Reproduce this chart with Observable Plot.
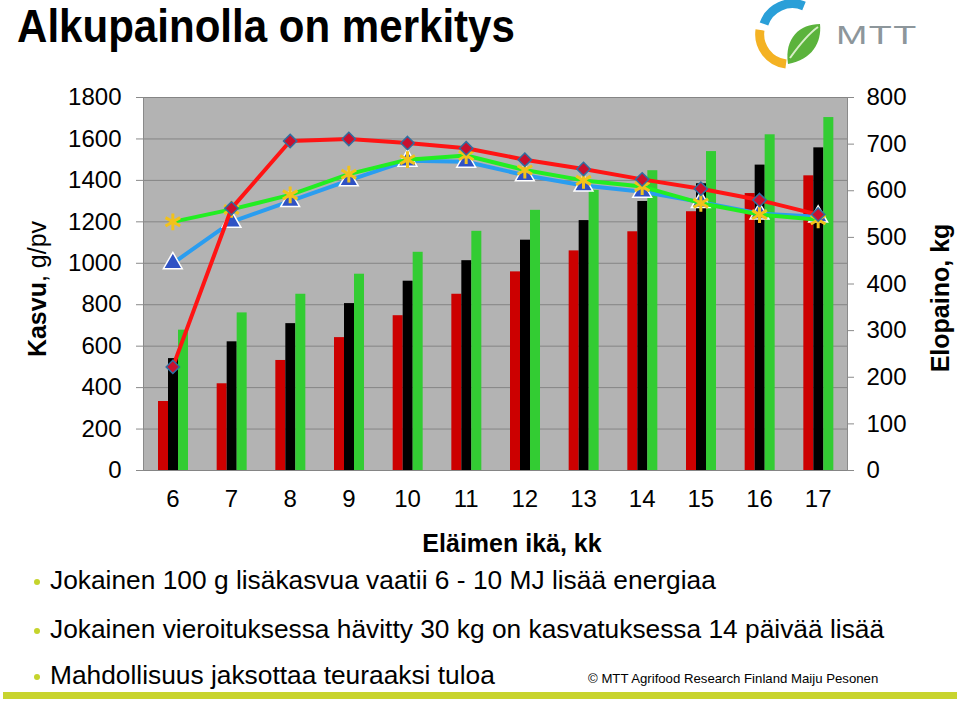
<!DOCTYPE html>
<html><head><meta charset="utf-8">
<script src="https://cdn.jsdelivr.net/npm/d3@7"></script>
<script src="https://cdn.jsdelivr.net/npm/@observablehq/plot@0.6"></script>
<style>
body{margin:0;background:#fff;font-family:"Liberation Sans",Arial,sans-serif;}
#page{position:relative;width:960px;height:701px;overflow:hidden;background:#fff;}
.abs{position:absolute;white-space:nowrap;color:#000;}
.c{transform:translate(-50%,-50%);}
.rot{transform:translate(-50%,-50%) rotate(-90deg);}
.bullet{position:absolute;left:34px;width:6px;height:6px;border-radius:3px;background:#c5d42c;}
.bl{position:absolute;left:50px;font-size:25px;white-space:nowrap;transform-origin:left top;transform:scaleX(1.053);}
#chart{position:absolute;left:0;top:80px;}
</style></head><body><div id="page">
<div class="abs" style="left:17px;top:-2px;font-size:47px;font-weight:bold;transform-origin:left top;transform:scaleX(0.895)">Alkupainolla on merkitys</div>
<svg class="abs" style="left:740px;top:0px" width="210" height="75" viewBox="740 0 210 75">
  <path d="M764,24 A30,30 0 0 1 804,6" fill="none" stroke="#2a9fd8" stroke-width="9"/>
  <path d="M760,30 A30,30 0 0 0 786,64" fill="none" stroke="#f4b223" stroke-width="9"/>
  <path d="M788,64 C812,60 822,42 820,24 C800,24 784,38 788,64 Z" fill="#5bb33c"/>
  <path d="M790,58 C800,44 808,34 818,27" fill="none" stroke="#d8eec8" stroke-width="2"/>
  <text x="836" y="44" font-family="Liberation Sans" font-size="26" fill="#8d969b" transform="translate(836,0) scale(1.45,1) translate(-836,0)" letter-spacing="1">MTT</text>
</svg>
<div id="chart"></div>
<div class="abs rot" style="left:37px;top:289px;font-size:25px"><b>Kasvu</b>, g/pv</div>
<div class="abs rot" style="left:940px;top:298px;font-size:25px;font-weight:bold">Elopaino, kg</div>
<div class="abs c" style="left:512px;top:543px;font-size:25px;font-weight:bold">Eläimen ikä, kk</div>
<div class="bullet" style="top:579px"></div>
<div class="bl" style="top:566px">Jokainen 100 g lisäkasvua vaatii 6 - 10 MJ lisää energiaa</div>
<div class="bullet" style="top:628px"></div>
<div class="bl" style="top:615px">Jokainen vieroituksessa hävitty 30 kg on kasvatuksessa 14 päivää lisää</div>
<div class="bullet" style="top:674px"></div>
<div class="bl" style="top:661px">Mahdollisuus jaksottaa teuraaksi tuloa</div>
<div class="abs" style="left:588px;top:671px;font-size:13.2px">© MTT Agrifood Research Finland Maiju Pesonen</div>
<div class="abs" style="left:3px;top:692px;width:954px;height:7px;background:#c8d42e"></div>
</div>
<script>
const months = [6, 7, 8, 9, 10, 11, 12, 13, 14, 15, 16, 17];
// Elopaino, kg (bars, right axis)
const weightRed   = [148, 186, 236, 285, 332, 378, 426, 471, 512, 555, 594, 632];
const weightBlack = [240, 276, 315, 358, 406, 450, 494, 536, 577, 615, 655, 692];
const weightGreen = [301, 338, 378, 421, 468, 513, 558, 601, 643, 684, 720, 757];
// Kasvu, g/pv (lines, left axis)
const gainRed   = [500, 1265, 1590, 1600, 1580, 1555, 1500, 1455, 1405, 1360, 1305, 1235];
const gainBlue  = [1000, 1200, 1300, 1400, 1495, 1490, 1425, 1375, 1345, 1295, 1240, 1225];
const gainGreen = [1200, 1260, 1330, 1430, 1500, 1520, 1450, 1400, 1370, 1290, 1235, 1210];
const leftTicks  = [0, 200, 400, 600, 800, 1000, 1200, 1400, 1600, 1800];
const rightTicks = [0, 100, 200, 300, 400, 500, 600, 700, 800];
const leftMax = 1800, rightMax = 800;
const K = leftMax / rightMax;

const rows = months.map((m, i) => ({
  month: m,
  wR: weightRed[i], wB: weightBlack[i], wG: weightGreen[i],
  gR: gainRed[i], gB: gainBlue[i], gG: gainGreen[i]
}));

const bw = 704 / months.length;
const chart = Plot.plot({
  width: 960, height: 480,
  marginLeft: 143, marginRight: 113, marginTop: 17, marginBottom: 90,
  style: {fontFamily: "Liberation Sans, Arial, sans-serif", background: "transparent"},
  x: {type: "band", domain: months, padding: 0, round: false, axis: null},
  y: {domain: [0, leftMax], axis: null},
  marks: [
    Plot.frame({fill: "#b3b3b3", stroke: null}),
    Plot.gridY(leftTicks, {stroke: "#858585", strokeOpacity: 1}),
    Plot.frame({anchor: "left", stroke: "#8a8a8a"}),
    Plot.frame({anchor: "right", stroke: "#8a8a8a"}),
    Plot.axisY(leftTicks, {anchor: "left", tickSize: 7, tickPadding: 15, fontSize: 24, stroke: "#8a8a8a", fill: "#000", tickFormat: d => String(d), label: null}),
    Plot.axisY(rightTicks.map(v => v * K), {anchor: "right", tickSize: 6, tickPadding: 13, fontSize: 24, stroke: "#8a8a8a", fill: "#000", tickFormat: v => String(Math.round(v / K)), label: null}),
    Plot.axisX({anchor: "bottom", tickSize: 0, tickPadding: 19, fontSize: 24, fill: "#000", label: null}),
    Plot.barY(rows, {x: "month", y: d => d.wR * K, fill: "#cc0000", insetLeft: 15, insetRight: bw - 25}),
    Plot.barY(rows, {x: "month", y: d => d.wB * K, fill: "#000000", insetLeft: 25, insetRight: bw - 35}),
    Plot.barY(rows, {x: "month", y: d => d.wG * K, fill: "#33cc33", insetLeft: 35, insetRight: bw - 45}),
    Plot.line(rows, {x: "month", y: "gB", stroke: "#2a9df0", strokeWidth: 4}),
    Plot.dot(rows, {x: "month", y: "gB", symbol: "triangle", r: 7, fill: "#2f52c4", stroke: "#ffffff", strokeWidth: 1.5}),
    Plot.line(rows, {x: "month", y: "gG", stroke: "#22ee22", strokeWidth: 4}),
    Plot.dot(rows, {x: "month", y: "gG", symbol: "asterisk", r: 8, stroke: "#f2c21b", strokeWidth: 3}),
    Plot.line(rows, {x: "month", y: "gR", stroke: "#ff1414", strokeWidth: 4}),
    Plot.dot(rows, {x: "month", y: "gR", symbol: "diamond2", r: 6, fill: "#c8102e", stroke: "#2f6ea0", strokeWidth: 1.5})
  ]
});
document.getElementById("chart").appendChild(chart);
</script>
</body></html>
